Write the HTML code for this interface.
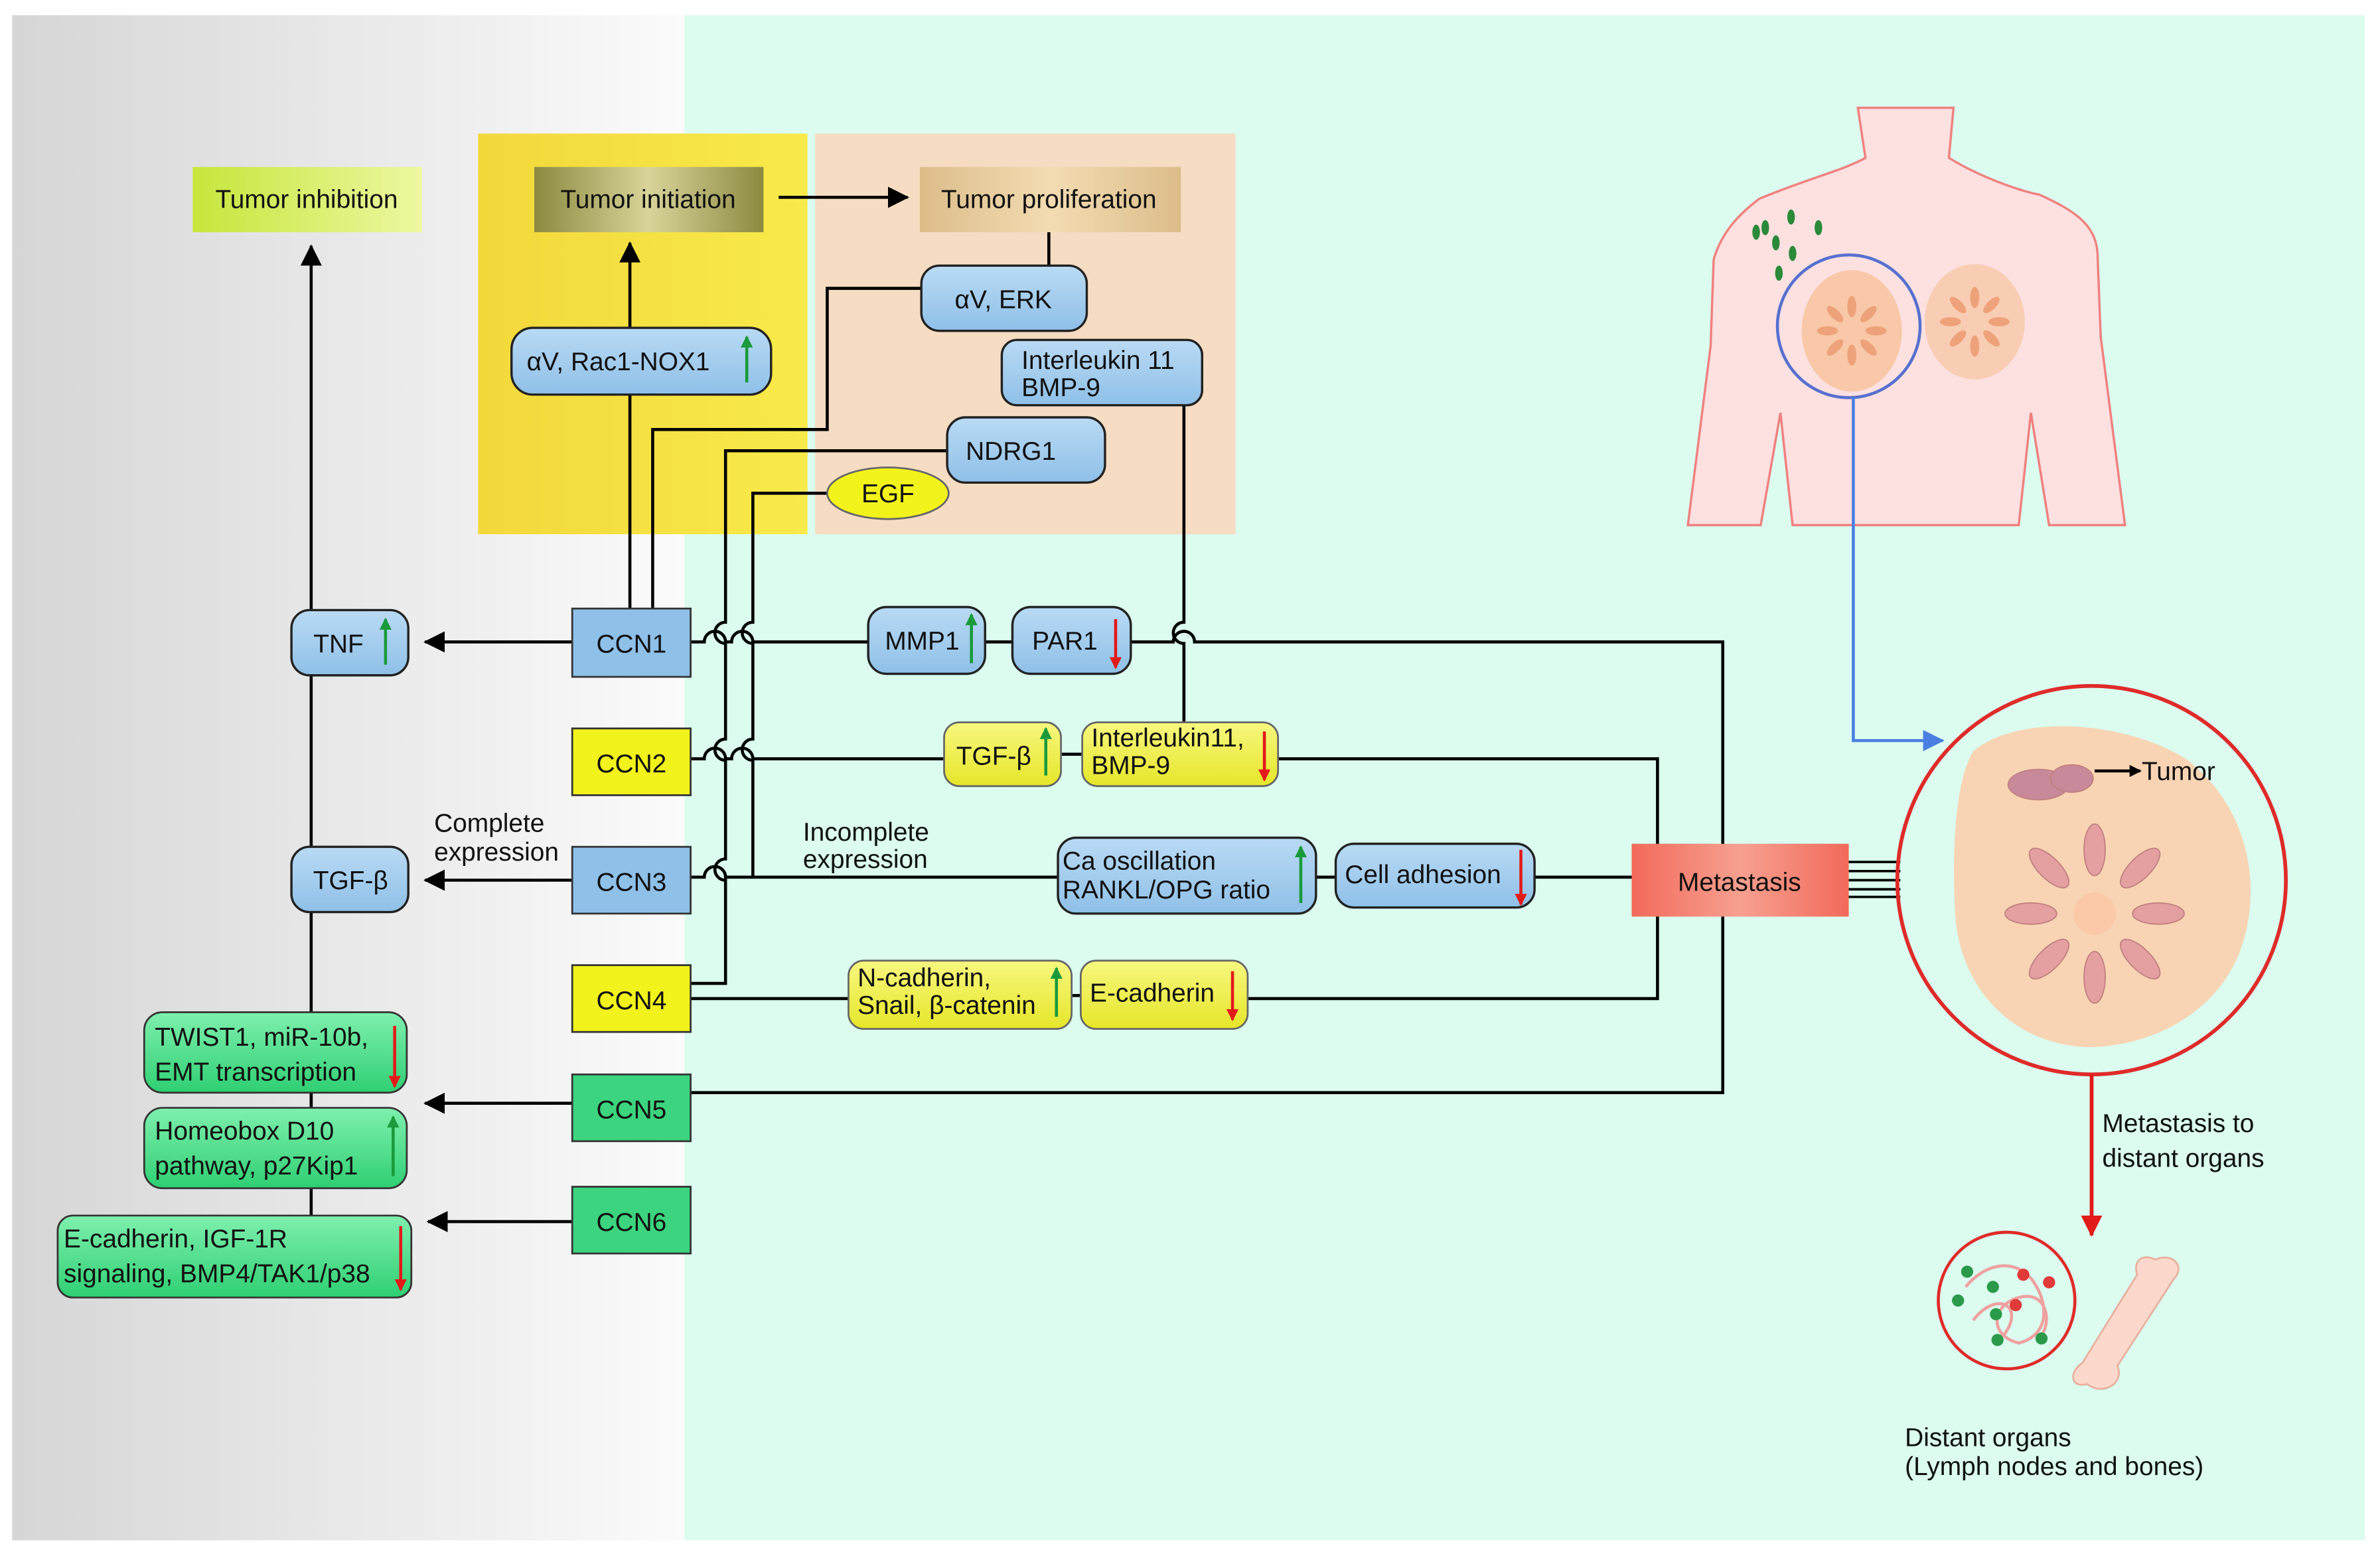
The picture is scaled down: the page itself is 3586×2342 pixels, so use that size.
<!DOCTYPE html>
<html><head><meta charset="utf-8"><style>
html,body{margin:0;padding:0;background:#fff;}
svg{display:block;}
text{font-family:"Liberation Sans",sans-serif;font-size:17px;fill:#111;}
</style></head><body>
<svg width="3586" height="2342" viewBox="0 0 1568 1024" xmlns="http://www.w3.org/2000/svg">
<defs>
<linearGradient id="gray" x1="0" x2="1" y1="0" y2="0"><stop offset="0" stop-color="#d6d6d6"/><stop offset="1" stop-color="#fbfbfb"/></linearGradient>
<linearGradient id="yel" x1="0" x2="1"><stop offset="0" stop-color="#f3d83a"/><stop offset="1" stop-color="#f8ea4a"/></linearGradient>
<linearGradient id="ti" x1="0" x2="1"><stop offset="0" stop-color="#c5e63c"/><stop offset="1" stop-color="#eef7a0"/></linearGradient>
<linearGradient id="tin" x1="0" x2="1"><stop offset="0" stop-color="#8c8a40"/><stop offset="0.5" stop-color="#d8d49a"/><stop offset="1" stop-color="#8c8a40"/></linearGradient>
<linearGradient id="tp" x1="0" x2="1"><stop offset="0" stop-color="#dcbd8a"/><stop offset="0.5" stop-color="#f3dcb2"/><stop offset="1" stop-color="#dcbd8a"/></linearGradient>
<linearGradient id="met" x1="0" x2="1"><stop offset="0" stop-color="#f26a5a"/><stop offset="0.5" stop-color="#f7a090"/><stop offset="1" stop-color="#f26a5a"/></linearGradient>
<linearGradient id="blu" x1="0" x2="0" y1="0" y2="1"><stop offset="0" stop-color="#b9daf4"/><stop offset="1" stop-color="#8fc0e8"/></linearGradient>
<linearGradient id="ylw" x1="0" x2="0" y1="0" y2="1"><stop offset="0" stop-color="#f7f780"/><stop offset="1" stop-color="#e6e629"/></linearGradient>
<linearGradient id="grn" x1="0" x2="0" y1="0" y2="1"><stop offset="0" stop-color="#7ff0ae"/><stop offset="1" stop-color="#2fcf73"/></linearGradient>
<marker id="ahg" markerWidth="8" markerHeight="8" refX="7" refY="4" orient="auto" markerUnits="userSpaceOnUse"><path d="M0,0L8,4L0,8z" fill="#1a9a3a"/></marker>
<marker id="ahr" markerWidth="8" markerHeight="8" refX="7" refY="4" orient="auto" markerUnits="userSpaceOnUse"><path d="M0,0L8,4L0,8z" fill="#e21a1a"/></marker>
<marker id="ah" markerWidth="8" markerHeight="8" refX="7" refY="4" orient="auto" markerUnits="userSpaceOnUse"><path d="M0,0L8,4L0,8z" fill="#000"/></marker>
<marker id="ahb" markerWidth="14" markerHeight="14" refX="13" refY="7" orient="auto" markerUnits="userSpaceOnUse"><path d="M0,0L14,7L0,14z" fill="#000"/></marker>
<marker id="ahblue" markerWidth="14" markerHeight="14" refX="13" refY="7" orient="auto" markerUnits="userSpaceOnUse"><path d="M0,0L14,7L0,14z" fill="#4a7ee0"/></marker>
<marker id="ahred" markerWidth="14" markerHeight="14" refX="13" refY="7" orient="auto" markerUnits="userSpaceOnUse"><path d="M0,0L14,7L0,14z" fill="#e21a1a"/></marker>
</defs>
<rect x="8" y="10" width="443" height="1005" fill="url(#gray)"/>
<rect x="451" y="10" width="1107" height="1005" fill="#dbfcef"/>
<rect x="315" y="88" width="217" height="264" fill="url(#yel)"/>
<rect x="537" y="88" width="277" height="264" fill="#f5dcc2"/>

<rect x="127" y="110" width="151" height="43" fill="url(#ti)"/><text x="202" y="137" text-anchor="middle">Tumor inhibition</text>
<rect x="352" y="110" width="151" height="43" fill="url(#tin)"/><text x="427" y="137" text-anchor="middle">Tumor initiation</text>
<rect x="606" y="110" width="172" height="43" fill="url(#tp)"/><text x="691" y="137" text-anchor="middle">Tumor proliferation</text>
<line x1="513" y1="130" x2="598" y2="130" stroke="#000" stroke-width="2" marker-end="url(#ahb)"/>

<g stroke="#000" stroke-width="2" fill="none">
<line x1="205" y1="402" x2="205" y2="162" marker-end="url(#ahb)"/>
<line x1="205" y1="445" x2="205" y2="802"/>
<line x1="415" y1="401" x2="415" y2="160" marker-end="url(#ahb)"/>
<path d="M430,401V283H545V190H607"/>
<line x1="691" y1="153" x2="691" y2="175"/>
<line x1="377" y1="423" x2="280" y2="423" marker-end="url(#ahb)"/>
<line x1="377" y1="580" x2="280" y2="580" marker-end="url(#ahb)"/>
<line x1="377" y1="727" x2="280" y2="727" marker-end="url(#ahb)"/>
<line x1="377" y1="805" x2="282" y2="805" marker-end="url(#ahb)"/>
<path d="M624,297H478V410a7,7 0 0 0 0,14V487a7,7 0 0 0 0,14V566a7,7 0 0 0 0,14V648H455"/>
<path d="M545,325H496V410a7,7 0 0 0 0,14V487a7,7 0 0 0 0,14V578"/>
<path d="M780,267V410a7,7 0 0 0 0,14V476"/>
<path d="M455,423H464a7,7 0 0 1 14,0H482a7,7 0 0 1 14,0H572"/>
<line x1="649" y1="423" x2="667" y2="423"/>
<path d="M745,423H773a7,7 0 0 1 14,0H1135V720H455"/>
<path d="M455,500H464a7,7 0 0 1 14,0H482a7,7 0 0 1 14,0H622"/>
<line x1="699" y1="497" x2="713" y2="497"/>
<path d="M842,500H1092V658H822"/>
<path d="M455,578H464a7,7 0 0 1 14,0H697"/>
<line x1="867" y1="578" x2="880" y2="578"/>
<line x1="1011" y1="578" x2="1075" y2="578"/>
<line x1="455" y1="658" x2="559" y2="658"/>
<line x1="706" y1="656" x2="712" y2="656"/>
<line x1="205" y1="720" x2="205" y2="730"/>
</g>
<g stroke="#000" stroke-width="1.6"><line x1="1218" y1="568" x2="1252" y2="568"/><line x1="1218" y1="574" x2="1252" y2="574"/><line x1="1218" y1="580" x2="1252" y2="580"/><line x1="1218" y1="586" x2="1252" y2="586"/><line x1="1218" y1="591" x2="1252" y2="591"/></g>

<g stroke="#222" stroke-width="1.5" fill="url(#blu)">
<rect x="607" y="175" width="109" height="43" rx="12"/>
<rect x="660" y="224" width="132" height="43" rx="10"/>
<rect x="624" y="275" width="104" height="43" rx="12"/>
<rect x="337" y="216" width="171" height="44" rx="14"/>
<rect x="192" y="402" width="77" height="43" rx="12"/>
<rect x="192" y="558" width="77" height="43" rx="12"/>
<rect x="572" y="400" width="77" height="44" rx="12"/>
<rect x="667" y="400" width="78" height="44" rx="12"/>
<rect x="697" y="552" width="170" height="50" rx="12"/>
<rect x="880" y="556" width="131" height="42" rx="12"/>
</g>
<ellipse cx="585" cy="325" rx="40" ry="17" fill="#f3f31c" stroke="#666" stroke-width="1.2"/>
<text x="585" y="331" text-anchor="middle">EGF</text>
<text x="661" y="203" text-anchor="middle">αV, ERK</text>
<text x="673" y="243">Interleukin 11</text><text x="673" y="261">BMP-9</text>
<text x="666" y="303" text-anchor="middle">NDRG1</text>
<text x="347" y="244">αV, Rac1-NOX1</text>
<text x="223" y="430" text-anchor="middle">TNF</text>
<text x="231" y="586" text-anchor="middle">TGF-β</text>
<text x="583" y="428">MMP1</text>
<text x="680" y="428">PAR1</text>
<text x="700" y="573">Ca oscillation</text><text x="700" y="592">RANKL/OPG ratio</text>
<text x="886" y="582">Cell adhesion</text>

<g stroke="#333" stroke-width="1.2">
<rect x="377" y="401" width="78" height="45" fill="#8fc0e8"/>
<rect x="377" y="480" width="78" height="44" fill="#f2f21c"/>
<rect x="377" y="558" width="78" height="44" fill="#8fc0e8"/>
<rect x="377" y="636" width="78" height="44" fill="#f2f21c"/>
<rect x="377" y="708" width="78" height="44" fill="#3cd47e"/>
<rect x="377" y="782" width="78" height="44" fill="#3cd47e"/>
</g>
<text x="416" y="430" text-anchor="middle">CCN1</text>
<text x="416" y="509" text-anchor="middle">CCN2</text>
<text x="416" y="587" text-anchor="middle">CCN3</text>
<text x="416" y="665" text-anchor="middle">CCN4</text>
<text x="416" y="737" text-anchor="middle">CCN5</text>
<text x="416" y="811" text-anchor="middle">CCN6</text>

<g stroke="#666" stroke-width="1.2" fill="url(#ylw)">
<rect x="622" y="476" width="77" height="42" rx="10"/>
<rect x="713" y="476" width="129" height="42" rx="10"/>
<rect x="559" y="633" width="147" height="45" rx="10"/>
<rect x="712" y="633" width="110" height="45" rx="10"/>
</g>
<text x="630" y="504">TGF-β</text>
<text x="719" y="492">Interleukin11,</text><text x="719" y="510">BMP-9</text>
<text x="565" y="650">N-cadherin,</text><text x="565" y="668">Snail, β-catenin</text>
<text x="718" y="660">E-cadherin</text>

<g stroke="#333" stroke-width="1.2" fill="url(#grn)">
<rect x="95" y="667" width="173" height="53" rx="12"/>
<rect x="95" y="730" width="173" height="53" rx="12"/>
<rect x="38" y="801" width="233" height="54" rx="10"/>
</g>
<text x="102" y="689">TWIST1, miR-10b,</text><text x="102" y="712">EMT transcription</text>
<text x="102" y="751">Homeobox D10</text><text x="102" y="774">pathway, p27Kip1</text>
<text x="42" y="822">E-cadherin, IGF-1R</text><text x="42" y="845">signaling, BMP4/TAK1/p38</text>

<rect x="1075" y="556" width="143" height="48" fill="url(#met)"/>
<text x="1146" y="587" text-anchor="middle">Metastasis</text>

<text x="286" y="548">Complete</text><text x="286" y="567">expression</text>
<text x="529" y="554">Incomplete</text><text x="529" y="572">expression</text>

<g stroke-width="2" fill="none">
<g stroke="#1a9a3a"><line x1="492" y1="252" x2="492" y2="222" marker-end="url(#ahg)"/><line x1="254" y1="438" x2="254" y2="408" marker-end="url(#ahg)"/><line x1="640" y1="437" x2="640" y2="405" marker-end="url(#ahg)"/><line x1="689" y1="511" x2="689" y2="480" marker-end="url(#ahg)"/><line x1="857" y1="595" x2="857" y2="558" marker-end="url(#ahg)"/><line x1="696" y1="670" x2="696" y2="638" marker-end="url(#ahg)"/><line x1="259" y1="775" x2="259" y2="736" marker-end="url(#ahg)"/></g>
<g stroke="#e21a1a"><line x1="735" y1="408" x2="735" y2="440" marker-end="url(#ahr)"/><line x1="833" y1="482" x2="833" y2="514" marker-end="url(#ahr)"/><line x1="1002" y1="560" x2="1002" y2="596" marker-end="url(#ahr)"/><line x1="812" y1="640" x2="812" y2="672" marker-end="url(#ahr)"/><line x1="260" y1="676" x2="260" y2="716" marker-end="url(#ahr)"/><line x1="264" y1="808" x2="264" y2="850" marker-end="url(#ahr)"/></g>
</g>

<path d="M1224,71H1287L1284,104C1310,120 1340,128 1343,128C1370,140 1382,150 1382,170L1384,222L1400,346H1350L1338,272L1330,346H1181L1173,272L1160,346H1112L1127,228L1129,171C1135,150 1150,138 1159,131C1190,118 1215,112 1229,104Z" fill="#fde0e0" stroke="#f08080" stroke-width="1.5"/>
<ellipse cx="1220" cy="218" rx="33" ry="40" fill="#f8c8a8"/>
<ellipse cx="1301" cy="212" rx="33" ry="38" fill="#f8c8a8" opacity="0.8"/>
<g fill="#eea27a">
<g transform="translate(1220,218)"><ellipse cx="0" cy="-16" rx="3" ry="7"/><ellipse cx="0" cy="16" rx="3" ry="7"/><ellipse cx="-16" cy="0" rx="7" ry="3"/><ellipse cx="16" cy="0" rx="7" ry="3"/><ellipse cx="11" cy="11" rx="3" ry="7" transform="rotate(-45 11 11)"/><ellipse cx="-11" cy="-11" rx="3" ry="7" transform="rotate(-45 -11 -11)"/><ellipse cx="11" cy="-11" rx="3" ry="7" transform="rotate(45 11 -11)"/><ellipse cx="-11" cy="11" rx="3" ry="7" transform="rotate(45 -11 11)"/></g>
<g transform="translate(1301,212)"><ellipse cx="0" cy="-16" rx="3" ry="7"/><ellipse cx="0" cy="16" rx="3" ry="7"/><ellipse cx="-16" cy="0" rx="7" ry="3"/><ellipse cx="16" cy="0" rx="7" ry="3"/><ellipse cx="11" cy="11" rx="3" ry="7" transform="rotate(-45 11 11)"/><ellipse cx="-11" cy="-11" rx="3" ry="7" transform="rotate(-45 -11 -11)"/><ellipse cx="11" cy="-11" rx="3" ry="7" transform="rotate(45 11 -11)"/><ellipse cx="-11" cy="11" rx="3" ry="7" transform="rotate(45 -11 11)"/></g>
</g>
<g fill="#2a8a3a"><ellipse cx="1157" cy="153" rx="2.5" ry="5"/><ellipse cx="1163" cy="150" rx="2.5" ry="5"/><ellipse cx="1180" cy="143" rx="2.5" ry="5"/><ellipse cx="1198" cy="150" rx="2.5" ry="5"/><ellipse cx="1170" cy="160" rx="2.5" ry="5"/><ellipse cx="1181" cy="167" rx="2.5" ry="5"/><ellipse cx="1172" cy="180" rx="2.5" ry="5"/></g>
<circle cx="1218" cy="215" r="47" fill="none" stroke="#5570d0" stroke-width="2"/>
<path d="M1221,262V488H1280" stroke="#4a7ee0" stroke-width="2" fill="none" marker-end="url(#ahblue)"/>

<circle cx="1378" cy="580" r="128" fill="none" stroke="#e02a2a" stroke-width="2.5"/>
<path d="M1300,495C1330,470 1400,475 1440,500C1480,530 1490,580 1478,620C1465,665 1420,690 1375,690C1325,688 1290,650 1288,600C1286,560 1288,515 1300,495Z" fill="#f9d4b4"/>
<g fill="#e4a0a0" stroke="#c08080" stroke-width="0.8">
<ellipse cx="1343" cy="517" rx="20" ry="10" fill="#c88a9a"/>
<ellipse cx="1365" cy="513" rx="14" ry="9" fill="#c88a9a"/>
<g transform="translate(1380,602)"><ellipse cx="0" cy="-42" rx="7" ry="17"/><ellipse cx="0" cy="42" rx="7" ry="17"/><ellipse cx="-42" cy="0" rx="17" ry="7"/><ellipse cx="42" cy="0" rx="17" ry="7"/><ellipse cx="30" cy="30" rx="7" ry="17" transform="rotate(-45 30 30)"/><ellipse cx="-30" cy="-30" rx="7" ry="17" transform="rotate(-45 -30 -30)"/><ellipse cx="30" cy="-30" rx="7" ry="17" transform="rotate(45 30 -30)"/><ellipse cx="-30" cy="30" rx="7" ry="17" transform="rotate(45 -30 30)"/><circle r="14" fill="#fbc9a8" stroke="none"/></g>
</g>
<line x1="1380" y1="508" x2="1410" y2="508" stroke="#000" stroke-width="2" marker-end="url(#ah)"/>
<text x="1411" y="514">Tumor</text>
<line x1="1378" y1="708" x2="1378" y2="814" stroke="#e21a1a" stroke-width="2.5" marker-end="url(#ahred)"/>
<text x="1385" y="746">Metastasis to</text><text x="1385" y="769">distant organs</text>
<circle cx="1322" cy="857" r="45" fill="none" stroke="#e02a2a" stroke-width="2"/>
<g fill="none" stroke="#f0a0a0" stroke-width="2"><path d="M1295,848C1310,830 1330,830 1340,845S1350,880 1330,885C1310,880 1312,860 1330,855S1352,870 1345,880"/><path d="M1300,870C1315,850 1335,860 1320,880"/></g>
<g fill="#2a9a4a"><circle cx="1296" cy="838" r="4"/><circle cx="1290" cy="857" r="4"/><circle cx="1313" cy="848" r="4"/><circle cx="1315" cy="866" r="4"/><circle cx="1316" cy="883" r="4"/><circle cx="1345" cy="882" r="4"/></g>
<g fill="#e03a3a"><circle cx="1333" cy="840" r="4"/><circle cx="1350" cy="845" r="4"/><circle cx="1328" cy="860" r="4"/></g>
<path d="M1420,830C1432,825 1440,835 1432,843L1395,900C1400,912 1385,920 1375,912C1365,915 1362,905 1372,898L1408,840C1405,830 1412,826 1420,830Z" fill="#fcd8cc" stroke="#e8b0a0" stroke-width="1.2"/>
<text x="1255" y="953">Distant organs</text><text x="1255" y="972">(Lymph nodes and bones)</text>
</svg>
</body></html>
